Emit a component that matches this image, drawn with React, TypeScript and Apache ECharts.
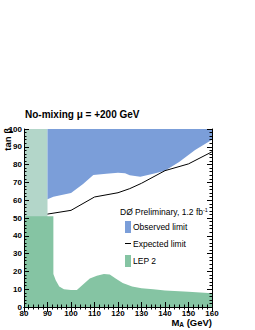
import React, { useEffect, useRef } from "react";
import * as echarts from "echarts";

const xTicks = [80, 160, 10];
const yTicks = [0, 100, 10];

const lightBand: [number, number][] = [
  [80, 100],
  [90, 100],
];

const lep2: [number, number][] = [
  [80, 51], [92.5, 51], [92.5, 18.5], [93.5, 15], [95, 11.5], [97, 10],
  [100, 9.5], [102.5, 9.6], [105, 12.5], [108, 16], [111, 17.5], [114, 18.5],
  [116.5, 18.3], [119, 16], [122, 13.5], [126, 11.5], [130, 10.5], [135, 10],
  [140, 9.3], [150, 8.5], [160, 7.7],
];

const observed: [number, number][] = [
  [90, 60.5], [92.5, 62], [100, 64], [105, 69], [109.5, 74.2], [115, 74.8],
  [120, 75.4], [123, 75.2], [125, 74], [129.5, 73.2], [135, 74.8], [140, 76.6],
  [146, 81.5], [152.8, 88.2], [160, 94],
];

const expected: [number, number][] = [
  [90, 52.2], [100, 54.3], [110, 61.8], [120, 64.2], [125, 66.5], [130, 69.5],
  [140, 76.6], [150, 80.4], [160, 87.2],
];

const FONT = "Liberation Sans";
const BLUE = "#7b9ed9";
const DARKGREEN = "#85c4a3";
const LIGHTGREEN = "#b3d6c9";

function axisCommon(show: boolean) {
  return {
    axisLine: { show: true, lineStyle: { color: "#000", width: 1 } },
    axisTick: { show: true, inside: true, length: 5, lineStyle: { color: "#000", width: 1 } },
    minorTick: { show: true, splitNumber: 5, length: 2.5, lineStyle: { color: "#000", width: 1 } },
    splitLine: { show: false },
    minorSplitLine: { show: false },
    axisLabel: {
      show,
      fontFamily: FONT,
      fontSize: 8,
      fontWeight: "bold",
      color: "#000",
      margin: 2,
    },
    z: 10,
  };
}

export default function App() {
  const ref = useRef<HTMLDivElement>(null);
  useEffect(() => {
    if (!ref.current) return;
    const chart = echarts.init(ref.current, undefined, { renderer: "svg" });
    const lx = 125;
    chart.setOption({
      animation: false,
      grid: { left: 24, right: 43, top: 129, bottom: 23 },
      xAxis: [
        { type: "value", min: xTicks[0], max: xTicks[1], interval: xTicks[2], position: "bottom", ...axisCommon(true) },
        { type: "value", min: xTicks[0], max: xTicks[1], interval: xTicks[2], position: "top", ...axisCommon(false) },
      ],
      yAxis: [
        { type: "value", min: yTicks[0], max: yTicks[1], interval: yTicks[2], position: "left", ...axisCommon(true) },
        { type: "value", min: yTicks[0], max: yTicks[1], interval: yTicks[2], position: "right", ...axisCommon(false) },
      ],
      series: [
        {
          type: "line", data: lightBand, showSymbol: false, symbol: "none",
          lineStyle: { width: 0 }, areaStyle: { color: LIGHTGREEN, opacity: 1, origin: "start" },
          silent: true,
        },
        {
          type: "line", data: lep2, showSymbol: false, symbol: "none",
          lineStyle: { width: 0 }, areaStyle: { color: DARKGREEN, opacity: 1, origin: "start" },
          silent: true,
        },
        {
          type: "line", data: observed, showSymbol: false, symbol: "none",
          lineStyle: { width: 0 }, areaStyle: { color: BLUE, opacity: 1, origin: "end" },
          silent: true,
        },
        {
          type: "line", data: expected, showSymbol: false, symbol: "none",
          lineStyle: { width: 1, color: "#000" }, silent: true,
        },
      ],
      graphic: [
        {
          type: "text", x: 25, y: 114.5,
          style: { text: "No-mixing μ = +200 GeV", fontFamily: FONT, fontSize: 10, fontWeight: "bold", fill: "#000", verticalAlign: "middle" },
        },
        {
          type: "text", x: 7, y: 128, rotation: Math.PI / 2,
          style: { text: "tan β", fontFamily: FONT, fontSize: 9.5, fontWeight: "bold", fill: "#000", align: "right", verticalAlign: "middle" },
        },
        {
          type: "text", x: 212, y: 322,
          style: {
            text: "{a|M}{s|A}{a| (GeV)}",
            align: "right", verticalAlign: "middle",
            rich: {
              a: { fontFamily: FONT, fontSize: 9.5, fontWeight: "bold", fill: "#000" },
              s: { fontFamily: FONT, fontSize: 6.5, fontWeight: "bold", fill: "#000", verticalAlign: "bottom", padding: [4, 0, 0, 0] },
            },
          },
        },
        {
          type: "text", x: 120, y: 211.7,
          style: {
            text: "{n|DØ Preliminary, 1.2 fb}{s|-1}",
            verticalAlign: "middle",
            rich: {
              n: { fontFamily: FONT, fontSize: 8.5, fill: "#000" },
              s: { fontFamily: FONT, fontSize: 5.5, fill: "#000", verticalAlign: "top", padding: [0, 0, 4, 0] },
            },
          },
        },
        { type: "rect", shape: { x: lx, y: 221, width: 6, height: 12 }, style: { fill: BLUE } },
        {
          type: "text", x: 133, y: 227.3,
          style: { text: "Observed limit", fontFamily: FONT, fontSize: 8.5, fill: "#000", verticalAlign: "middle" },
        },
        { type: "line", shape: { x1: lx, y1: 243.5, x2: lx + 6, y2: 243.5 }, style: { stroke: "#000", lineWidth: 1 } },
        {
          type: "text", x: 133, y: 243.5,
          style: { text: "Expected limit", fontFamily: FONT, fontSize: 8.5, fill: "#000", verticalAlign: "middle" },
        },
        { type: "rect", shape: { x: lx, y: 255, width: 6, height: 12 }, style: { fill: DARKGREEN } },
        {
          type: "text", x: 133, y: 261,
          style: { text: "LEP 2", fontFamily: FONT, fontSize: 8.5, fill: "#000", verticalAlign: "middle" },
        },
      ],
    });
    return () => chart.dispose();
  }, []);
  return <div ref={ref} style={{ position: "absolute", left: 0, top: 0, width: 255, height: 330 }} />;
}
